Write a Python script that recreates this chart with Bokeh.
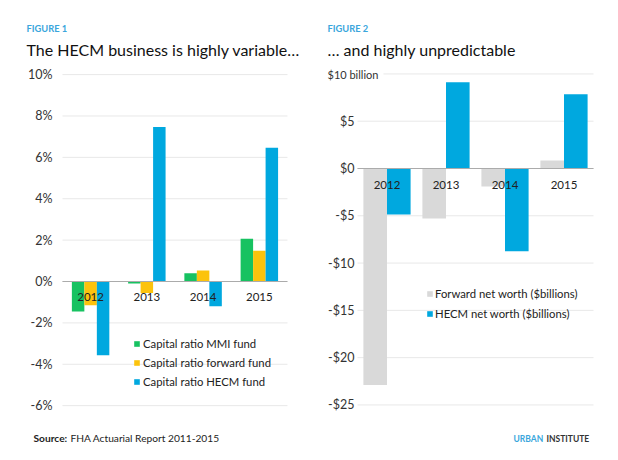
from bokeh.plotting import figure
from bokeh.models import (Range1d, Label, Legend, LegendItem, ColumnDataSource)
from bokeh.transform import dodge
from bokeh.core.properties import value
from bokeh.embed import file_html
from bokeh.resources import INLINE

# ---------------- data ----------------
years = ["2012", "2013", "2014", "2015"]

mmi_ratio = [-1.45, -0.1, 0.4, 2.07]
forward_ratio = [-1.15, -0.55, 0.53, 1.49]
hecm_ratio = [-3.57, 7.47, -1.2, 6.46]
left_ticks = [-6, -4, -2, 0, 2, 4, 6, 8, 10]
left_tick_labels = ["-6%", "-4%", "-2%", "0%", "2%", "4%", "6%", "8%", "10%"]
left_series = ["Capital ratio MMI fund", "Capital ratio forward fund", "Capital ratio HECM fund"]

forward_worth = [-22.9, -5.3, -1.9, 0.85]
hecm_worth = [-4.87, 9.12, -8.74, 7.85]
right_ticks = [-25, -20, -15, -10, -5, 0, 5, 10]
right_tick_labels = ["-$25", "-$20", "-$15", "-$10", "-$5", "$0", "$5", "$10 billion"]
right_series = ["Forward net worth ($billions)", "HECM net worth ($billions)"]

fig1_kicker = "FIGURE 1"
fig1_title = "The HECM business is highly variable\u2026"
fig2_kicker = "FIGURE 2"
fig2_title = "\u2026 and highly unpredictable"
source_bold = "Source:"
source_text = "FHA Actuarial Report 2011-2015"
brand_a = "URBAN"
brand_b = "INSTITUTE"

# ---------------- styles ----------------
FONT = "Lato"
GREEN = "#17c261"
YELLOW = "#fcc30d"
BLUE = "#00a8df"
GRAY = "#d9d9d9"
KICKER = "#3aa6dc"
GRID = "#e8e8e8"
ZERO = "#ababab"
TXT = "#222222"
W, H = 618, 460

# Panel geometry (pixels) for the two charts drawn on one canvas
L_X0, L_STEP, L_Y0, L_UNIT = 90.1, 56.25, 281.0, 20.69   # left: first category centre, px/category, zero line, px per 1%
R_X0, R_STEP, R_Y0, R_UNIT = 386.5, 59.0, 168.0, 9.457   # right: px per $1bn

p = figure(width=W, height=H, x_range=Range1d(0, W), y_range=Range1d(0, H),
           output_backend="svg", toolbar_location=None,
           x_axis_location=None, y_axis_location=None, min_border=0)
p.outline_line_color = None
p.xgrid.visible = False
p.ygrid.visible = False
p.background_fill_color = "white"
p.border_fill_color = "white"

p.extra_x_ranges = {
    "l": Range1d(-L_X0 / L_STEP, (W - L_X0) / L_STEP),
    "r": Range1d(-R_X0 / R_STEP, (W - R_X0) / R_STEP),
}
p.extra_y_ranges = {
    "l": Range1d(-(H - L_Y0) / L_UNIT, L_Y0 / L_UNIT),
    "r": Range1d(-(H - R_Y0) / R_UNIT, R_Y0 / R_UNIT),
}

n = len(years)
xs = list(range(n))
edge0, edge1 = -0.5, n - 0.5


def chart_frame(name, ticks, labels, label_gap, label_size):
    src = ColumnDataSource(dict(tick=ticks, label=labels))
    p.segment(x0=edge0, x1=edge1, y0="tick", y1="tick", source=src,
              line_color=GRID, line_width=1, x_range_name=name, y_range_name=name)
    p.text(x=edge0, y="tick", text="label", source=src, x_offset=-label_gap,
           text_align="right", text_baseline="middle", text_font=value(FONT),
           text_font_size=label_size, text_color="#333333",
           x_range_name=name, y_range_name=name)


def add_label(x, y, text, size, color, style="normal", **kw):
    p.add_layout(Label(x=x, y=H - y, x_units="screen", y_units="screen", text=text,
                       text_font=FONT, text_font_size=size, text_color=color,
                       text_font_style=style, text_baseline="middle",
                       text_align="left", **kw))


# ---------------- left chart ----------------
chart_frame("l", left_ticks, left_tick_labels, 10, "12.5px")
src1 = ColumnDataSource(dict(x=xs, year=years, mmi=mmi_ratio, fwd=forward_ratio,
                             hecm=hecm_ratio, zero=[0] * n))
bw = 0.222
r1 = p.vbar(x=dodge("x", -bw), top="mmi", width=bw, fill_color=GREEN, line_color=None,
            source=src1, x_range_name="l", y_range_name="l")
r2 = p.vbar(x=dodge("x", 0), top="fwd", width=bw, fill_color=YELLOW, line_color=None,
            source=src1, x_range_name="l", y_range_name="l")
r3 = p.vbar(x=dodge("x", bw), top="hecm", width=bw, fill_color=BLUE, line_color=None,
            source=src1, x_range_name="l", y_range_name="l")
p.segment(x0=edge0, x1=edge1, y0=0, y1=0, line_color=ZERO, line_width=1,
          x_range_name="l", y_range_name="l")
p.text(x="x", y="zero", text="year", source=src1, y_offset=15,
       text_align="center", text_baseline="middle", text_font=value(FONT),
       text_font_size="11.5px", text_color=TXT, x_range_name="l", y_range_name="l")

leg1 = Legend(items=[LegendItem(label=left_series[0], renderers=[r1]),
                     LegendItem(label=left_series[1], renderers=[r2]),
                     LegendItem(label=left_series[2], renderers=[r3])],
              location=(133, 69), glyph_width=7, glyph_height=7, label_standoff=3,
              padding=0, margin=0, spacing=0, label_height=19,
              border_line_color=None, background_fill_alpha=0,
              label_text_font=FONT, label_text_font_size="11.3px",
              label_text_color=TXT)
p.add_layout(leg1)

# ---------------- right chart ----------------
chart_frame("r", right_ticks[:-1], right_tick_labels[:-1], 3, "12.5px")
src_top = ColumnDataSource(dict(tick=right_ticks[-1:]))
p.segment(x0=edge0, x1=edge1, y0="tick", y1="tick", source=src_top,
          line_color=GRID, line_width=1, x_range_name="r", y_range_name="r")
src2 = ColumnDataSource(dict(x=xs, year=years, fwd=forward_worth, hecm=hecm_worth,
                             zero=[0] * n))
bw2 = 0.4
q1 = p.vbar(x=dodge("x", -bw2 / 2), top="fwd", width=bw2, fill_color=GRAY, line_color=None,
            source=src2, x_range_name="r", y_range_name="r")
q2 = p.vbar(x=dodge("x", bw2 / 2), top="hecm", width=bw2, fill_color=BLUE, line_color=None,
            source=src2, x_range_name="r", y_range_name="r")
p.segment(x0=edge0, x1=edge1, y0=0, y1=0, line_color=ZERO, line_width=1,
          x_range_name="r", y_range_name="r")
p.text(x="x", y="zero", text="year", source=src2, y_offset=16,
       text_align="center", text_baseline="middle", text_font=value(FONT),
       text_font_size="11.5px", text_color=TXT, x_range_name="r", y_range_name="r")

leg2 = Legend(items=[LegendItem(label=right_series[0], renderers=[q1]),
                     LegendItem(label=right_series[1], renderers=[q2])],
              location=(426, 137), glyph_width=7, glyph_height=7, label_standoff=2,
              padding=0, margin=0, spacing=0, label_height=20,
              border_line_color=None, background_fill_alpha=0,
              label_text_font=FONT, label_text_font_size="11.3px",
              label_text_color=TXT)
p.add_layout(leg2)

# ---------------- titles and notes ----------------
add_label(322, 74, right_tick_labels[-1], "11px", "#333333",
          background_fill_color="white", padding=5)
add_label(26, 28, fig1_kicker, "9.3px", KICKER, "bold")
add_label(26, 49, fig1_title, "16px", "#111111")
add_label(327, 28, fig2_kicker, "9.3px", KICKER, "bold")
add_label(327, 49, fig2_title, "16px", "#111111")
add_label(33, 437, source_bold, "10.2px", TXT, "bold")
add_label(70, 437, source_text, "10.2px", TXT)
add_label(513, 438, brand_a, "8.5px", KICKER, "bold")
add_label(546, 438, brand_b, "8.5px", "#333333", "bold")

open("out.html", "w").write(file_html(p, INLINE))
